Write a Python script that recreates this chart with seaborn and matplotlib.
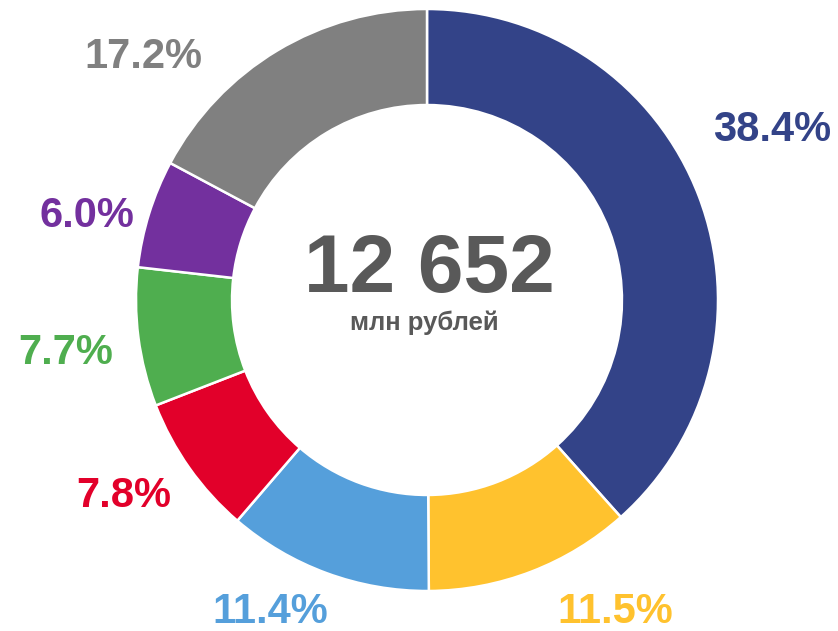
import matplotlib
matplotlib.use("Agg")
import matplotlib.pyplot as plt
import seaborn as sns

# доли по направлениям, %
shares = [38.4, 11.5, 11.4, 7.8, 7.7, 6.0, 17.2]
labels = ["38.4%", "11.5%", "11.4%", "7.8%", "7.7%", "6.0%", "17.2%"]
colors = ["#334388", "#FFC22E", "#559FDB", "#E2002A", "#4FAE4F", "#73309E", "#808080"]
total_text = "12 652"
unit_text = "млн рублей"

# где стоят подписи (центр по x, базовая линия по y), в радиусах кольца
label_pos = [(1.186, 0.546), (0.646, -1.110), (-0.540, -1.110), (-1.041, -0.711),
             (-1.241, -0.220), (-1.168, 0.251), (-0.976, 0.797)]

sns.set_theme(style="white")
plt.rcParams['font.family'] = ['Liberation Sans', 'DejaVu Sans']

fig = plt.figure(figsize=(8.38, 6.31), dpi=100)
ax = fig.add_axes([0, 0, 1, 1])

ax.pie(shares, colors=colors, startangle=90, counterclock=False,
       radius=1.0, wedgeprops=dict(width=0.33, edgecolor="white", linewidth=1.8))

for (x, y), txt, c in zip(label_pos, labels, colors):
    ax.text(x, y, txt, color=c, fontsize=30, fontweight="bold",
            ha="center", va="baseline")

ax.text(0.007, 0.027, total_text, color="#595959", fontsize=59, fontweight="bold",
        ha="center", va="baseline")
ax.text(-0.01, -0.103, unit_text, color="#595959", fontsize=18.5, fontweight="bold",
        ha="center", va="baseline")

# 1 единица = 291 px, центр кольца в (427, 300) px
ax.set_xlim(-427 / 291, (838 - 427) / 291)
ax.set_ylim(-(631 - 300) / 291, 300 / 291)
ax.set_aspect("equal")
ax.axis("off")

fig.savefig("out.png", dpi=100, facecolor="white")
